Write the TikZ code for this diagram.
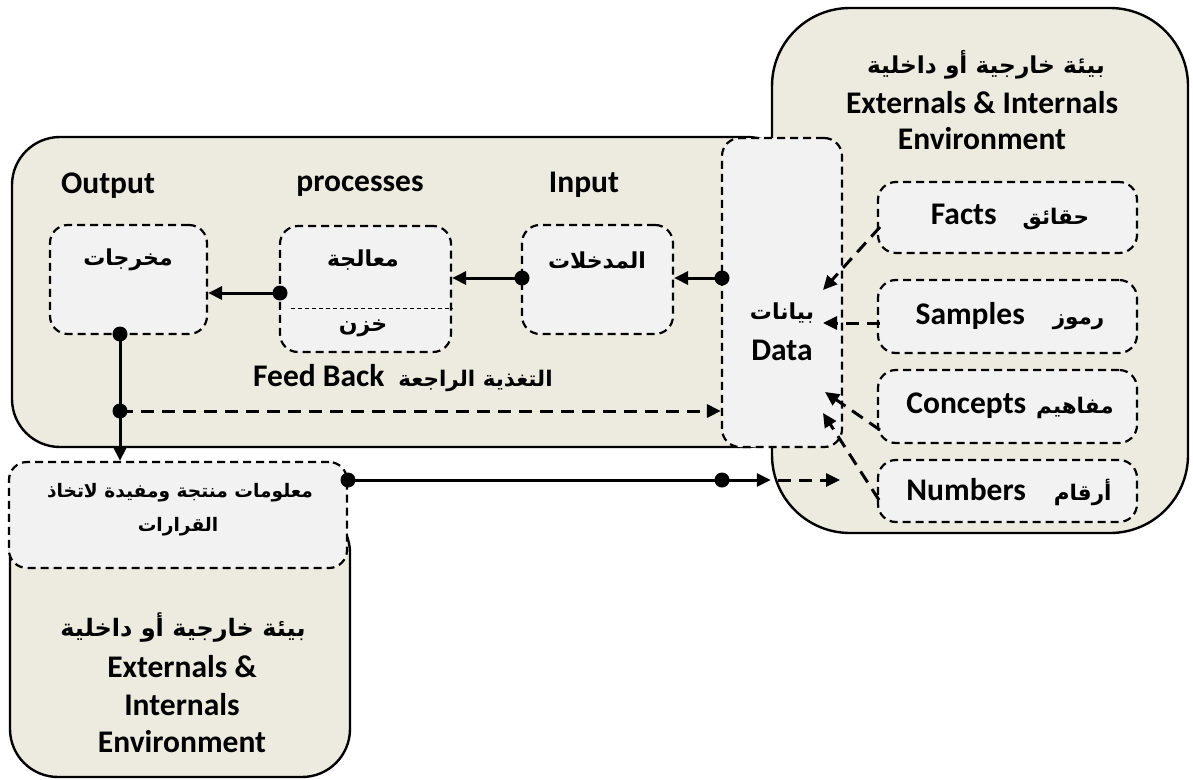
\documentclass[tikz,border=0pt]{standalone}
\usepackage{fontspec}
\setmainfont{Carlito}
\newfontfamily\arabicfont[Script=Arabic]{DejaVu Sans}
\TeXXeTstate=1
\usetikzlibrary{arrows.meta}
\definecolor{envfill}{HTML}{EDEBE0}
\definecolor{boxfill}{HTML}{F2F2F2}
\newcommand{\artxt}[1]{{\arabicfont\bfseries\beginR #1\endR}}
\newcommand{\arsize}[1]{\fontsize{#1}{#1}\selectfont}
\begin{document}
\begin{tikzpicture}[x=1pt,y=-1pt,
  env/.style={draw=black, line width=2.4pt, fill=envfill},
  dbox/.style={draw=black, line width=2.2pt, dash pattern=on 8pt off 5pt, fill=boxfill, rounded corners=18pt, inner sep=0pt},
  dotn/.style={circle, fill=black, inner sep=0pt, minimum size=15pt},
  conn/.style={line width=3pt, -{Triangle[length=14pt,width=13pt]}},
  dconn/.style={conn, dash pattern=on 13pt off 8pt},
  lbl/.style={font=\fontsize{31.5}{36}\selectfont\bfseries, inner sep=0pt, align=center},
  albl/.style={font=\fontsize{22}{34}\selectfont, inner sep=0pt, align=center},
]
\useasboundingbox (0,0) rectangle (1193,779);

% environment and system frames
\node[env, rounded corners=48pt, minimum width=783pt, minimum height=310pt] (sys) at (403.5,292) {};
\node[env, rounded corners=78pt, minimum width=416pt, minimum height=525pt] (renv) at (980,270.5) {};
\node[env, rounded corners=48pt, minimum width=340pt, minimum height=272pt] (benv) at (180,641) {};

% dashed boxes
\node[dbox, minimum width=338pt, minimum height=106pt] (info) at (178,515) {};
\node[dbox, minimum width=157pt, minimum height=109pt] (out) at (128.5,279.5) {};
\node[dbox, minimum width=171pt, minimum height=126pt] (proc) at (365.5,289) {};
\node[dbox, minimum width=151pt, minimum height=109pt] (inp) at (597.5,279.5) {};
\node[dbox, minimum width=120pt, minimum height=309pt] (data) at (782,292.5) {};
\node[dbox, minimum width=259pt, minimum height=71pt] (facts) at (1007.5,217.5) {};
\node[dbox, minimum width=259pt, minimum height=73pt] (samples) at (1007.5,316.5) {};
\node[dbox, minimum width=259pt, minimum height=73pt] (concepts) at (1007.5,406.5) {};
\node[dbox, minimum width=259pt, minimum height=62pt] (numbers) at (1007.5,491) {};

% divider inside the processing box
\path (proc.west) ++(12,19) coordinate (dvL);
\draw[line width=1pt, dash pattern=on 4pt off 3pt] (dvL) -- (dvL -| proc.east);

% headings
\node[lbl] (hOut) at (108,186) {Output};
\node[lbl] (hProc) at (360,186) {processes};
\node[lbl] (hInp) at (584,185) {Input};

% box texts
\node[albl] (tOut) at (128,260) {\artxt{مخرجات}};
\node[albl] (tProc) at (363,260) {\artxt{معالجة}};
\node[albl] (tStore) at (363,328) {\artxt{خزن}};
\node[albl] (tInp) at (597,260) {\artxt{المدخلات}};
\node[albl] (tData) at (782,313) {\artxt{بيانات}};
\node[lbl] (tDataEn) at (782,350) {Data};
\node[lbl, anchor=west] (tFb) at (253,378) {Feed Back\hspace{14pt}\artxt{\arsize{21.5}التغذية الراجعة}};

\node[lbl] (tFacts) at (1010,217) {Facts\hspace{26pt}\artxt{\arsize{21.5}حقائق}};
\node[lbl] (tSamples) at (1010,316) {Samples\hspace{28pt}\artxt{\arsize{21.5}رموز}};
\node[lbl] (tConcepts) at (1010,406) {Concepts\hspace{10pt}\artxt{\arsize{21.5}مفاهيم}};
\node[lbl] (tNumbers) at (1009,492) {Numbers\hspace{28pt}\artxt{\arsize{21.5}أرقام}};

\node[albl, font=\fontsize{23.3}{34}\selectfont] (tRenvA) at (986,65) {\artxt{بيئة خارجية أو داخلية}};
\node[lbl] (tRenvB) at (982,103) {Externals \& Internals};
\node[lbl] (tRenvC) at (982,139) {Environment};

\node[albl, font=\fontsize{18.6}{34}\selectfont] (tInfoA) at (180,493) {\artxt{معلومات منتجة ومفيدة لاتخاذ}};
\node[albl, font=\fontsize{18.6}{34}\selectfont] (tInfoB) at (178,527) {\artxt{القرارات}};

\node[albl, font=\fontsize{24}{34}\selectfont] (tBenvA) at (183,628) {\artxt{بيئة خارجية أو داخلية}};
\node[lbl] (tBenvB) at (182,667) {Externals \&};
\node[lbl] (tBenvC) at (182,705) {Internals};
\node[lbl] (tBenvD) at (182,742) {Environment};

% junction dots
\node[dotn] (dData) at (722,278) {};
\node[dotn] (dInp) at (522,278) {};
\node[dotn] (dProc) at (280,293) {};
\node[dotn] (dOut) at (120,334) {};
\node[dotn] (dFb) at (120,411) {};
\node[dotn] (dInfo) at (348,480) {};
\node[dotn] (dMid) at (722,480) {};

% main flow
\draw[conn] (dData.center) -- (dData -| inp.east);
\draw[conn] (dInp.center) -- (dInp -| proc.east);
\draw[conn] (dProc.center) -- (dProc -| out.east);
\draw[conn] (dOut.center) -- (info.north -| dOut);
\draw[dconn] (dFb.center) -- (dFb -| data.west);
\draw[line width=3pt] (dInfo.center) -- (dMid.center);
\draw[conn] (dMid.center) -- (dMid -| renv.west);
\coordinate (eA) at (778,480);
\coordinate (eB) at (840,480);
\draw[dconn] (eA) -- (eB);

% data sources
\coordinate (sF) at (880,227);
\coordinate (sS) at (880,323);
\coordinate (sC) at (880,430);
\coordinate (sN) at (879,500);
\coordinate (eF) at (823,290);
\coordinate (eS) at (823,323);
\coordinate (eC) at (825,392);
\coordinate (eN) at (823,413);
\draw[dconn] (sF) -- (eF);
\draw[dconn] (sS) -- (eS);
\draw[dconn] (sC) -- (eC);
\draw[dconn] (sN) -- (eN);
\end{tikzpicture}
\end{document}
